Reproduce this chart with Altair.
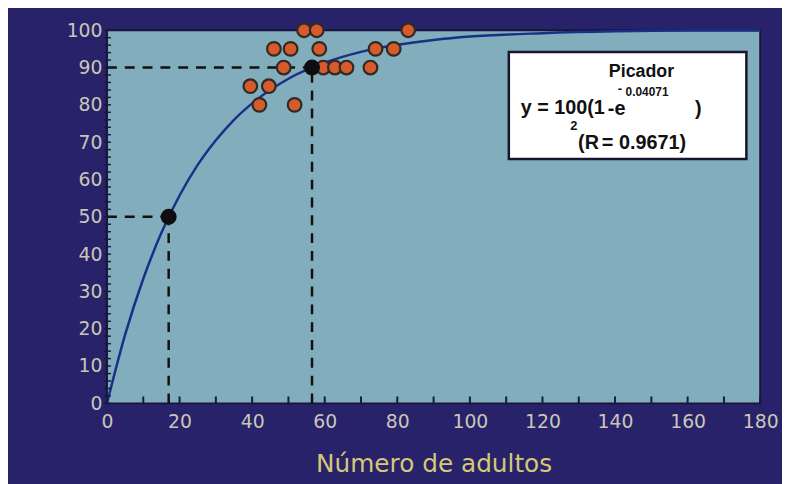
import altair as alt
import pandas as pd

# observed points (Número de adultos, %)
obs_x = [39.5, 42, 44.6, 46, 48.7, 50.6, 51.7, 54.3, 57.8, 58.5, 59.6, 62.8, 66, 72.6, 74, 79, 83]
obs_y = [85, 80, 85, 95, 90, 95, 80, 100, 100, 95, 90, 90, 90, 90, 95, 95, 100]

# fitted curve
curve_x = [0, 5, 10, 15, 20, 25, 30, 35, 40, 50, 60, 70, 80, 90, 100, 120, 140, 160, 180]
curve_y = [0, 18.4, 33.4, 45.7, 55.7, 63.9, 70.5, 76.0, 80.4, 87.0, 91.3, 94.2, 96.1, 97.4, 98.3, 99.2, 99.7, 99.9, 99.9]

# highlighted points
key_x = [17, 56.5]
key_y = [50, 90]

x_labels = list(range(0, 181, 20))
y_labels = list(range(0, 101, 10))
x_ticks = list(range(0, 181, 10))
y_ticks = list(range(0, 101, 2))

NAVY = "#28226b"
PLOT = "#82adbd"
LABEL = "#c9c6b6"

xs = alt.Scale(domain=[0, 180], nice=False, zero=False)
ys = alt.Scale(domain=[0, 100], nice=False, zero=False)

obs = pd.DataFrame({"x": obs_x, "y": obs_y})
curve = pd.DataFrame({"x": curve_x, "y": curve_y})
keys = pd.DataFrame({"x": key_x, "y": key_y})

hseg = pd.DataFrame({"x": [0] * len(key_x), "x2": key_x, "y": key_y})
vseg = pd.DataFrame({"x": key_x, "y": [0] * len(key_y), "y2": key_y})

xt = pd.DataFrame({"x": x_ticks})
yt = pd.DataFrame({"y": y_ticks})

x_axis = alt.Axis(values=x_labels, tickSize=0, domain=False, grid=False,
                  labelColor=LABEL, labelFontSize=19, labelFont="DejaVu Sans",
                  labelPadding=9, labelOverlap=False, labelFlush=False,
                  titleColor="#d6c877", titleFontSize=25,
                  titleFont="DejaVu Sans", titleFontWeight="normal", titlePadding=21)
y_axis = alt.Axis(values=y_labels, tickSize=0, domain=False, grid=False,
                  labelColor=LABEL, labelFontSize=19, labelFont="DejaVu Sans",
                  labelPadding=5, labelOverlap=False, labelFlush=False)

X = lambda: alt.X("x:Q", scale=xs, axis=x_axis, title="Número de adultos")
Y = lambda: alt.Y("y:Q", scale=ys, axis=y_axis, title=None)

curve_layer = alt.Chart(curve).mark_line(color="#1c2f86", strokeWidth=2.5, interpolate="monotone").encode(
    x=X(), y=Y())

h_layer = alt.Chart(hseg).mark_rule(color="#111", strokeWidth=2.5, strokeDash=[10, 8]).encode(
    x=X(), x2="x2:Q", y=Y())
v_layer = alt.Chart(vseg).mark_rule(color="#111", strokeWidth=2.5, strokeDash=[10, 8]).encode(
    x=X(), y=Y(), y2="y2:Q")

xtick_layer = alt.Chart(xt).mark_rule(color="#1a1a3a", strokeWidth=2).encode(
    x=X(), y=alt.value(378), y2=alt.value(370))
ytick_layer = alt.Chart(yt).mark_rule(color="#1a1a3a", strokeWidth=1.5).encode(
    y=Y(), x=alt.value(-3), x2=alt.value(4))

obs_layer = alt.Chart(obs).mark_point(filled=True, shape="circle", size=190, fill="#d65a2c",
                                      stroke="#2e2a24", strokeWidth=2.2, opacity=1).encode(
    x=X(), y=Y())

key_layer = alt.Chart(keys).mark_point(filled=True, shape="circle", size=200, fill="#0d0d12",
                                       stroke="#0d0d12", opacity=1).encode(
    x=X(), y=Y())

# legend box (pixel-placed annotation)
box = alt.Chart(pd.DataFrame({"a": [0]})).mark_rect(fill="white", stroke="#15152e", strokeWidth=2.5).encode(
    x=alt.value(406), x2=alt.value(646), y=alt.value(22), y2=alt.value(130))

def txt(text, x, y, size, weight="bold", align="left"):
    return alt.Chart(pd.DataFrame({"t": [text]})).mark_text(
        font="Liberation Sans", fontSize=size, fontWeight=weight, color="#111", align=align,
        baseline="alphabetic").encode(text="t:N", x=alt.value(x), y=alt.value(y))

legend = (box
          + txt("Picador", 540, 47, 18, align="center")
          + txt("y = 100(1", 418, 85, 20)
          + txt("-e", 506, 86, 20)
          + txt("-", 516, 63, 13)
          + txt("0.04071", 524, 66, 12)
          + txt(")", 594, 86, 20)
          + txt("(R", 476, 120, 20)
          + txt("2", 468, 101, 13)
          + txt("= 0.9671)", 500, 120, 20))

chart = alt.layer(
    curve_layer, h_layer, v_layer, xtick_layer, ytick_layer, obs_layer, key_layer, legend
).properties(
    width=660, height=377,
    background=NAVY,
    padding={"left": 100, "top": 20, "right": 22, "bottom": 79},
    autosize=alt.AutoSizeParams(type="none"),
).configure_view(
    fill=PLOT, stroke="#16163a", strokeWidth=2
)

chart.save("out.html", embed_options={"renderer": "svg", "actions": False})
